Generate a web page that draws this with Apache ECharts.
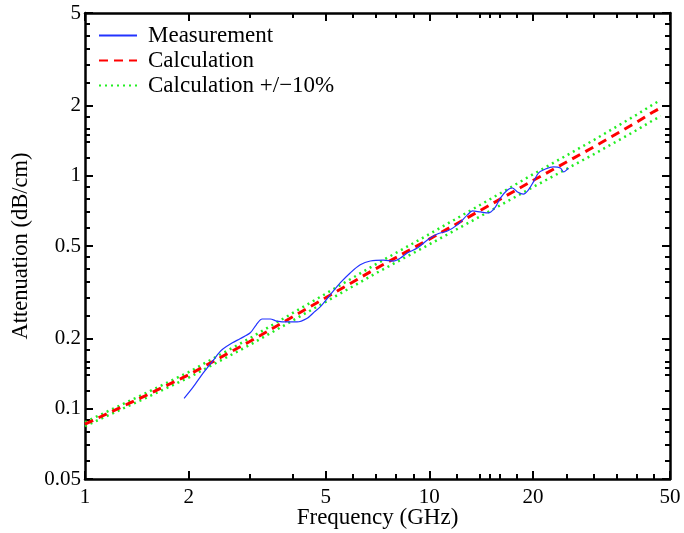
<!DOCTYPE html>
<html>
<head>
<meta charset="utf-8">
<script src="https://cdn.jsdelivr.net/npm/echarts@6/dist/echarts.min.js"></script>
<style>
html,body{margin:0;padding:0;background:#fff;}
#chart{width:684px;height:533px;}
</style>
</head>
<body>
<div id="chart"></div>
<script>
// ---- data ----
var measFreq = [1.94, 2.06, 2.20, 2.36, 2.45, 2.52, 2.68, 2.82, 3.02, 3.14, 3.27, 3.45, 3.61, 3.87, 4.13, 4.42, 4.60, 4.82, 5.15, 5.51, 5.89, 6.30, 6.74, 7.35, 7.86, 8.24, 8.63, 9.23, 9.87, 10.55, 11.28, 12.06, 12.90, 13.34, 14.06, 14.85, 15.55, 16.08, 16.86, 17.42, 18.03, 18.76, 19.40, 20.06, 20.74, 21.74, 22.93, 24.02, 24.53, 25.36];
var measValues = [0.111, 0.124, 0.142, 0.162, 0.174, 0.181, 0.192, 0.200, 0.212, 0.229, 0.243, 0.243, 0.238, 0.236, 0.236, 0.245, 0.258, 0.274, 0.308, 0.347, 0.383, 0.415, 0.431, 0.435, 0.431, 0.444, 0.467, 0.490, 0.531, 0.563, 0.580, 0.616, 0.680, 0.707, 0.700, 0.693, 0.735, 0.803, 0.870, 0.887, 0.853, 0.835, 0.870, 0.942, 1.028, 1.070, 1.092, 1.081, 1.040, 1.080];

var calcFreq = [1, 1.5, 2, 3, 5, 7, 10, 15, 20, 30, 40, 44.4, 47];
var calcValues = [0.086, 0.114, 0.140, 0.194, 0.300, 0.400, 0.535, 0.750, 0.955, 1.33, 1.70, 1.87, 1.96];
var bandUpper = [0.0877, 0.1167, 0.1438, 0.2004, 0.312, 0.418, 0.562, 0.7935, 1.015, 1.423, 1.829, 2.016, 2.117];
var bandLower = [0.0843, 0.1113, 0.1362, 0.1876, 0.288, 0.382, 0.508, 0.7065, 0.895, 1.237, 1.571, 1.724, 1.803];

var seriesNames = ['Measurement', 'Calculation', 'Calculation +/\u221210%'];

var xMajorTicks = [1, 2, 5, 10, 20, 50];
var xMinorTicks = [3, 4, 6, 7, 8, 9, 12, 14, 15, 16, 18, 25, 30, 35, 40, 45];
var yMajorTicks = [0.05, 0.1, 0.2, 0.5, 1, 2, 5];
var yMinorTicks = [0.06, 0.07, 0.08, 0.09, 0.12, 0.14, 0.15, 0.16, 0.18, 0.25, 0.3, 0.35, 0.4, 0.45, 0.6, 0.7, 0.8, 0.9, 1.2, 1.4, 1.5, 1.6, 1.8, 2.5, 3, 3.5, 4, 4.5];

function zip(a, b) { return a.map(function (v, i) { return [v, b[i]]; }); }
function fmt(v) { return String(parseFloat(Number(v).toPrecision(4))); }

var FONT = 'Liberation Serif';
var black = '#000';

function xAx(pos, major, showLabel, extra) {
  var ticks = major ? xMajorTicks : xMinorTicks;
  var o = {
    type: 'log', logBase: 10, min: 1, max: 50, position: pos,
    axisLine: { show: major, onZero: false, lineStyle: { color: black, width: 2.5 } },
    axisTick: { show: true, inside: true, length: major ? 8 : 5, lineStyle: { color: black, width: 2 }, customValues: ticks },
    axisLabel: { show: showLabel, customValues: xMajorTicks, formatter: fmt, color: black, fontFamily: FONT, fontSize: 21, margin: 8, hideOverlap: false },
    splitLine: { show: false }, minorTick: { show: false }, minorSplitLine: { show: false },
    axisPointer: { show: false }
  };
  if (extra) Object.assign(o, extra);
  return o;
}
function yAx(pos, major, showLabel, extra) {
  var ticks = major ? yMajorTicks : yMinorTicks;
  var o = {
    type: 'log', logBase: 10, min: 0.05, max: 5, position: pos,
    axisLine: { show: major, onZero: false, lineStyle: { color: black, width: 2.5 } },
    axisTick: { show: true, inside: true, length: major ? 8 : 5, lineStyle: { color: black, width: 2 }, customValues: ticks },
    axisLabel: { show: showLabel, customValues: yMajorTicks, formatter: fmt, color: black, fontFamily: FONT, fontSize: 21, margin: 4, hideOverlap: false },
    splitLine: { show: false }, minorTick: { show: false }, minorSplitLine: { show: false },
    axisPointer: { show: false }
  };
  if (extra) Object.assign(o, extra);
  return o;
}

var chart = echarts.init(document.getElementById('chart'), null, { renderer: 'canvas' });
chart.setOption({
  animation: false,
  backgroundColor: '#fff',
  grid: { left: 85, right: 14, top: 13, bottom: 54, containLabel: false, outerBoundsMode: 'none' },
  legend: {
    orient: 'vertical', left: 98, top: 24, padding: 0,
    data: seriesNames,
    itemWidth: 38, itemHeight: 14, itemGap: 2,
    itemStyle: { opacity: 0 },
    textStyle: { fontFamily: FONT, fontSize: 23, color: black, padding: [0, 0, 0, 6], lineHeight: 23 },
    selectedMode: false
  },
  xAxis: [
    xAx('bottom', true, true, {
      name: 'Frequency (GHz)', nameLocation: 'middle', nameGap: 27, nameMoveOverlap: false,
      nameTextStyle: { fontFamily: FONT, fontSize: 23, color: black }
    }),
    xAx('bottom', false, false),
    xAx('top', true, false),
    xAx('top', false, false)
  ],
  yAxis: [
    yAx('left', true, true, {
      name: 'Attenuation (dB/cm)', nameLocation: 'middle', nameGap: 52, nameMoveOverlap: false,
      nameTextStyle: { fontFamily: FONT, fontSize: 22.5, color: black }
    }),
    yAx('left', false, false),
    yAx('right', true, false),
    yAx('right', false, false)
  ],
  series: [
    {
      name: seriesNames[2], type: 'line', xAxisIndex: 0, yAxisIndex: 0,
      data: zip(calcFreq, bandUpper), showSymbol: false, symbol: 'none',
      lineStyle: { color: '#22ee22', width: 2.5, type: [2, 4] }, itemStyle: { color: '#22ee22' }, z: 2
    },
    {
      name: seriesNames[2], type: 'line', xAxisIndex: 0, yAxisIndex: 0,
      data: zip(calcFreq, bandLower), showSymbol: false, symbol: 'none',
      lineStyle: { color: '#22ee22', width: 2.5, type: [2, 4] }, itemStyle: { color: '#22ee22' }, z: 2
    },
    {
      name: seriesNames[1], type: 'line', xAxisIndex: 0, yAxisIndex: 0,
      data: zip(calcFreq, calcValues), showSymbol: false, symbol: 'none',
      lineStyle: { color: '#ff0000', width: 3, type: [9, 6] }, itemStyle: { color: '#ff0000' }, z: 3
    },
    {
      name: seriesNames[0], type: 'line', xAxisIndex: 0, yAxisIndex: 0,
      data: zip(measFreq, measValues), showSymbol: false, symbol: 'none', smooth: 0.3,
      lineStyle: { color: '#2233ff', width: 1.2 }, itemStyle: { color: '#2233ff' }, z: 4
    }
  ]
});
</script>
</body>
</html>
